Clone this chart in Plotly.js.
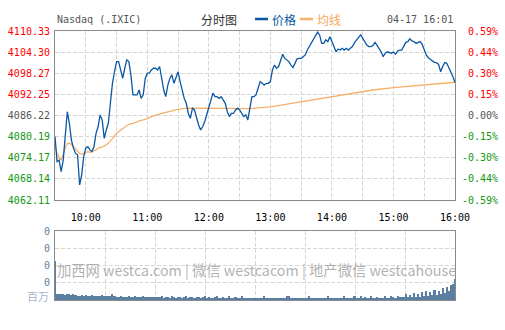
<!DOCTYPE html>
<html><head><meta charset="utf-8">
<script src="https://cdn.plot.ly/plotly-3.0.1.min.js"></script>
<style>html,body{margin:0;padding:0;background:#fff}#chart{width:505px;height:330px}</style>
</head><body><div id="chart"></div>
<script>
// 2-minute samples from 09:30 to 16:00
const priceValues = [
4080.2,4073.1,4073.5,4070.2,4073.5,4081.6,4087.3,4084.0,4079.2,4076.9,
4075.4,4075.0,4066.4,4069.3,4074.5,4076.9,4077.3,4076.4,4075.9,4077.3,
4081.1,4083.0,4086.4,4084.9,4079.7,4082.1,4084.0,4089.7,4095.4,4098.7,
4101.6,4101.6,4099.2,4096.8,4099.7,4102.1,4101.6,4097.8,4092.1,4092.1,
4092.1,4093.5,4091.1,4092.1,4096.8,4098.3,4098.3,4099.2,4099.7,4099.7,
4099.2,4100.2,4096.4,4093.5,4091.6,4094.9,4096.8,4097.8,4095.4,4096.8,
4098.7,4095.9,4093.5,4091.1,4089.7,4086.8,4085.4,4088.3,4087.8,4085.4,
4083.5,4082.1,4083.0,4084.5,4086.4,4088.3,4090.7,4092.6,4091.6,4091.6,
4091.1,4091.6,4090.7,4089.7,4087.3,4085.9,4086.8,4086.8,4087.8,4088.3,
4087.8,4086.8,4085.9,4086.4,4084.9,4088.3,4091.6,4091.6,4092.1,4094.0,
4095.9,4095.4,4094.9,4095.4,4095.4,4095.9,4099.2,4100.6,4099.7,4100.2,
4102.1,4103.7,4102.5,4102.1,4101.6,4100.6,4099.9,4101.1,4102.4,4102.5,
4102.5,4103.0,4103.5,4104.9,4105.9,4107.3,4108.3,4109.2,4110.0,4109.2,
4106.8,4106.8,4107.8,4107.3,4108.7,4107.3,4105.9,4104.4,4105.2,4104.9,
4105.4,4104.9,4105.4,4104.9,4105.4,4105.9,4107.0,4107.8,4108.7,4109.2,
4108.3,4107.3,4106.3,4105.9,4105.9,4106.2,4107.1,4106.2,4105.4,4104.4,
4103.0,4104.0,4104.4,4104.3,4104.0,4104.3,4103.7,4104.6,4104.9,4104.9,
4105.9,4107.1,4107.3,4108.1,4107.5,4107.3,4106.8,4107.1,4107.3,4106.5,
4104.9,4103.5,4102.7,4102.1,4101.8,4101.4,4101.3,4100.8,4098.7,4100.2,
4101.3,4101.1,4099.9,4098.7,4097.3,4095.6
];
const volumeValues = [
2.26,0.34,0.36,0.32,0.35,0.30,0.33,0.36,0.31,0.32,
0.30,0.26,0.24,0.27,0.25,0.28,0.23,0.26,0.27,0.24,
0.26,0.24,0.25,0.27,0.23,0.24,0.26,0.24,0.35,0.22,
0.20,0.19,0.24,0.18,0.20,0.19,0.21,0.18,0.19,0.22,
0.18,0.20,0.17,0.24,0.19,0.18,0.20,0.17,0.19,0.18,
0.15,0.16,0.25,0.14,0.15,0.16,0.14,0.24,0.15,0.14,
0.15,0.16,0.14,0.15,0.24,0.14,0.16,0.15,0.14,0.15,
0.16,0.14,0.15,0.25,0.14,0.15,0.13,0.14,0.15,0.24,
0.14,0.13,0.15,0.14,0.13,0.22,0.14,0.13,0.15,0.14,
0.13,0.25,0.14,0.12,0.13,0.14,0.12,0.13,0.12,0.13,
0.12,0.11,0.22,0.12,0.11,0.10,0.12,0.11,0.10,0.11,
0.12,0.10,0.11,0.24,0.22,0.11,0.10,0.12,0.11,0.10,
0.11,0.10,0.12,0.11,0.24,0.10,0.11,0.12,0.10,0.11,
0.10,0.11,0.10,0.22,0.11,0.10,0.12,0.11,0.10,0.11,
0.12,0.24,0.11,0.10,0.12,0.11,0.22,0.12,0.11,0.24,
0.12,0.20,0.13,0.12,0.22,0.12,0.13,0.20,0.12,0.14,
0.13,0.24,0.14,0.13,0.22,0.15,0.14,0.26,0.15,0.16,
0.16,0.35,0.18,0.30,0.18,0.40,0.20,0.36,0.20,0.48,
0.22,0.55,0.25,0.45,0.30,0.60,0.28,0.50,0.35,0.70,
0.40,0.75,0.50,0.85,0.95,1.20
];
const avgMinutes = [0,2,4,6,8,10,12,14,16,18,20,22,24,26,28,30,32,34,36,38,40,42,44,46,48,50,52,54,56,58,60,64,68,72,76,80,84,88,92,96,106,114,122,130,140,150,160,170,180,190,210,230,250,270,290,310,330,350,370,390];
const avgValues = [4077.5,4075.5,4074.3,4073.6,4075.0,4077.0,4078.2,4078.3,4078.0,4077.3,4076.7,4075.9,4075.4,4075.2,4075.5,4075.7,4075.9,4075.7,4075.9,4076.1,4076.4,4076.9,4077.2,4077.3,4077.5,4077.8,4078.3,4078.9,4079.7,4080.5,4081.1,4082.1,4083.0,4083.7,4084.0,4084.5,4084.8,4085.1,4085.6,4086.1,4087.0,4087.6,4088.1,4088.3,4088.3,4088.1,4088.1,4088.1,4088.1,4088.2,4088.7,4089.7,4090.7,4091.6,4092.6,4093.5,4094.2,4094.7,4095.2,4095.7];
const priceTicks = [4110.33,4104.30,4098.27,4092.25,4086.22,4080.19,4074.17,4068.14,4062.11];
const pctLabels = ['0.59%','0.44%','0.30%','0.15%','0.00%','-0.15%','-0.30%','-0.44%','-0.59%'];
const prevClose = 4086.22;
const timeTickMinutes = [30,60,90,120,150,180,210,240,270,300,330,360,390];
const timeTickLabels = ['10:00','','11:00','','12:00','','13:00','','14:00','','15:00','','16:00'];

const minutes = priceValues.map((_, i) => i * 2);
const colorFor = v => v > prevClose + 0.001 ? '#ff0000' : (v < prevClose - 0.001 ? '#119911' : '#555555');
const leftText = priceTicks.map(v => '<span style="color:' + colorFor(v) + '">' + v.toFixed(2) + '</span>');
const rightText = priceTicks.map((v, i) => (pctLabels[i][0] === '-' ? '' : '<span style="color:#ffffff">-</span>') +
  '<span style="color:' + colorFor(v) + '">' + pctLabels[i] + '</span>');

const MONO = 'DejaVu Sans Mono';
const CJK = 'Noto Sans CJK SC';
const GRID = '#d6d6d6';
const LINE = '#8a8a8a';
const PY = px => (300 - px) / 269;
const PX = px => (px - 55) / 400;

const traces = [
  {x: avgMinutes, y: avgValues, type: 'scatter', mode: 'lines', line: {color: '#f5b06a', width: 1.3}, xaxis: 'x', yaxis: 'y', hoverinfo: 'skip'},
  {x: minutes, y: priceValues, type: 'scatter', mode: 'lines', line: {color: '#0b57a4', width: 1.3}, xaxis: 'x', yaxis: 'y'},
  {x: minutes, y: priceValues, type: 'scatter', mode: 'lines', line: {color: 'rgba(0,0,0,0)', width: 0}, xaxis: 'x', yaxis: 'y2', hoverinfo: 'skip'},
  {x: minutes, y: volumeValues, type: 'bar', width: 2, marker: {color: '#5a7fa2', line: {width: 0}}, xaxis: 'x2', yaxis: 'y3'}
];

const layout = {
  width: 505, height: 330,
  margin: {l: 55, r: 50, t: 31, b: 30},
  paper_bgcolor: '#ffffff', plot_bgcolor: '#ffffff',
  showlegend: false, bargap: 0,
  xaxis: {domain: [0, 1], anchor: 'y', range: [0, 390], tickmode: 'array', tickvals: timeTickMinutes, ticktext: timeTickLabels,
    showgrid: true, gridcolor: GRID, griddash: '4px,2px', gridwidth: 1, showline: true, linecolor: LINE, linewidth: 1, mirror: true,
    ticks: '', ticklabelstandoff: 8, zeroline: false, tickfont: {family: MONO, size: 10, color: '#000'}},
  yaxis: {domain: [PY(200), 1], anchor: 'x', range: [4062.11, 4110.33], tickmode: 'array', tickvals: priceTicks, ticktext: leftText,
    showgrid: true, gridcolor: GRID, griddash: '4px,2px', showline: true, linecolor: LINE, linewidth: 1, mirror: true,
    ticks: '', ticklabelstandoff: 2, zeroline: false, tickfont: {family: MONO, size: 10, color: '#555'}},
  yaxis2: {overlaying: 'y', side: 'right', anchor: 'x', range: [4062.11, 4110.33], tickmode: 'array', tickvals: priceTicks, ticktext: rightText,
    showgrid: false, showline: false, ticks: '', ticklabelstandoff: 6, zeroline: false, tickfont: {family: MONO, size: 10, color: '#555'}},
  xaxis2: {domain: [0, 1], anchor: 'y3', range: [0, 390], tick0: 0, dtick: 48.75, showticklabels: false,
    showgrid: true, gridcolor: GRID, griddash: '4px,2px', showline: true, linecolor: LINE, linewidth: 1, mirror: true, ticks: '', zeroline: false},
  yaxis3: {domain: [0, PY(231)], anchor: 'x2', range: [0, 4], tickmode: 'array', tickvals: [1, 2, 3, 4], ticktext: ['0', '0', '0', '0'],
    showgrid: true, gridcolor: GRID, griddash: '4px,2px', showline: true, linecolor: LINE, linewidth: 1, mirror: true, ticks: '', ticklabelstandoff: 2, zeroline: false,
    tickfont: {family: MONO, size: 10, color: '#5a7fa2'}},
  shapes: [
    {type: 'line', xref: 'paper', yref: 'paper', x0: PX(255), x1: PX(268), y0: PY(19), y1: PY(19), line: {color: '#0b57a4', width: 2.5}},
    {type: 'line', xref: 'paper', yref: 'paper', x0: PX(300), x1: PX(313), y0: PY(19), y1: PY(19), line: {color: '#f5b06a', width: 2.5}}
  ],
  annotations: [
    {xref: 'paper', yref: 'paper', x: 0, y: PY(19), xanchor: 'left', yanchor: 'middle', showarrow: false, text: 'Nasdaq (.IXIC)', font: {family: MONO, size: 10, color: '#555'}},
    {xref: 'paper', yref: 'paper', x: PX(199), y: PY(19), xanchor: 'left', yanchor: 'middle', showarrow: false, text: '分时图', font: {family: CJK, size: 12, color: '#333'}},
    {xref: 'paper', yref: 'paper', x: PX(270), y: PY(19), xanchor: 'left', yanchor: 'middle', showarrow: false, text: '价格', font: {family: CJK, size: 12, color: '#0b57a4'}},
    {xref: 'paper', yref: 'paper', x: PX(315), y: PY(19), xanchor: 'left', yanchor: 'middle', showarrow: false, text: '均线', font: {family: CJK, size: 12, color: '#f5a85a'}},
    {xref: 'paper', yref: 'paper', x: 1, y: PY(19), xanchor: 'right', yanchor: 'middle', showarrow: false, text: '04-17 16:01', font: {family: MONO, size: 10, color: '#555'}},
    {xref: 'paper', yref: 'paper', x: PX(38), y: PY(296), xanchor: 'center', yanchor: 'middle', showarrow: false, text: '百万', font: {family: CJK, size: 11, color: '#a3b5cc'}},
    {xref: 'paper', yref: 'paper', x: 0, y: PY(269), xanchor: 'left', yanchor: 'middle', showarrow: false,
      text: '加西网 westca.com | 微信 westcacom | 地产微信 westcahouse', font: {family: CJK, size: 14.3, color: 'rgba(150,150,150,0.75)'}}
  ]
};

Plotly.newPlot('chart', traces, layout, {staticPlot: true, displayModeBar: false});
</script>
</body></html>
